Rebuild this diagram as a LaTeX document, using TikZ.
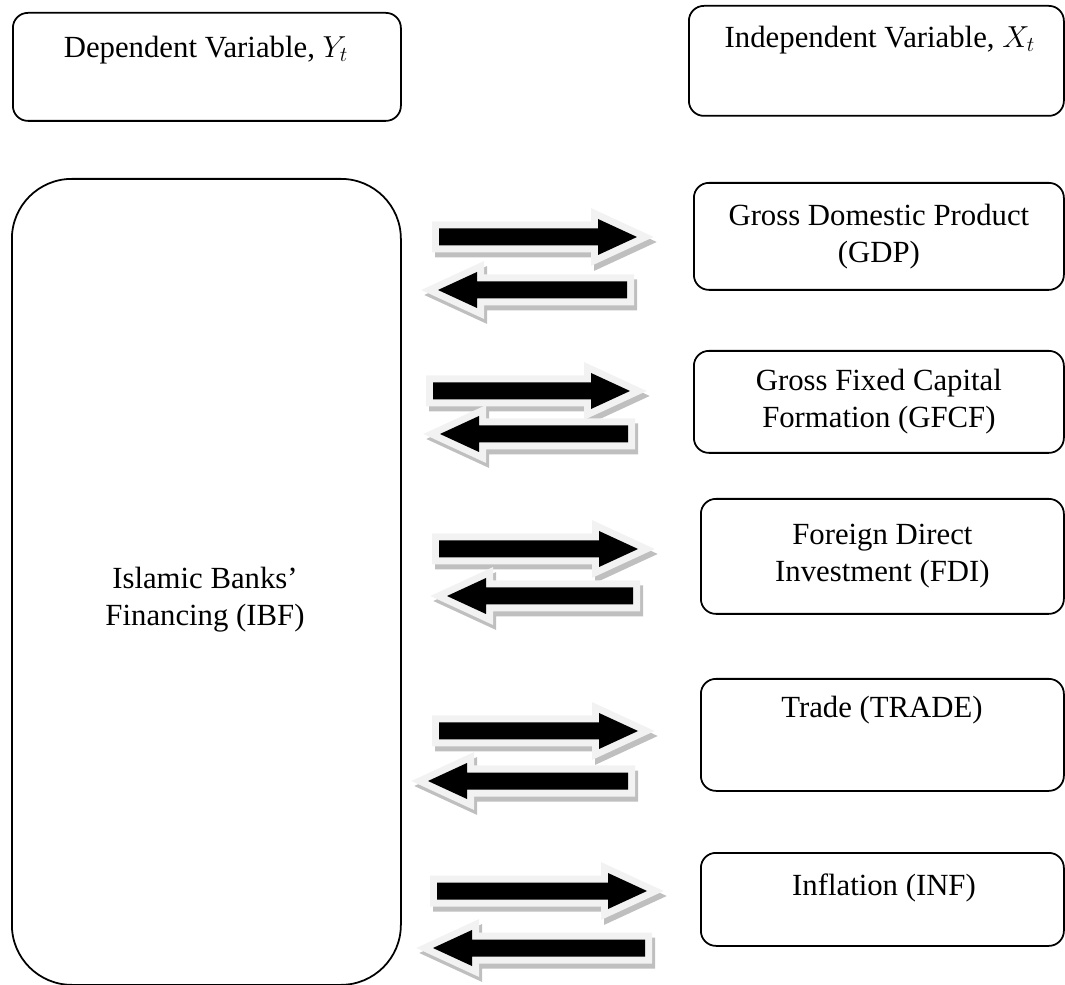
\documentclass[tikz,border=0pt]{standalone}
\usepackage{fontspec}
\setmainfont{Liberation Serif}
\usetikzlibrary{positioning}

\begin{document}
\begin{tikzpicture}[
    var_box/.style={draw, line width=1pt, rounded corners=0.3cm, anchor=north west, inner sep=0pt},
    var_label/.style={align=center, font=\fontsize{17.5}{21}\selectfont, inner sep=0pt},
    block_arrow/.style={fill=black,
        preaction={draw=gray!50, fill=gray!50, line width=0.28cm, transform canvas={xshift=0.06cm, yshift=-0.1cm}},
        preaction={draw=gray!10, fill=gray!10, line width=0.28cm}},
    pics/right_arrow/.style={code={
        \path[block_arrow] (0,-0.17) -- ({#1-0.78},-0.17) -- ({#1-0.78},-0.36) -- (#1,0)
            -- ({#1-0.78},0.36) -- ({#1-0.78},0.17) -- (0,0.17) -- cycle;}},
    pics/left_arrow/.style={code={
        \path[block_arrow] (#1,-0.17) -- (0.78,-0.17) -- (0.78,-0.36) -- (0,0)
            -- (0.78,0.36) -- (0.78,0.17) -- (#1,0.17) -- cycle;}}
]
    \useasboundingbox (0,0) rectangle (21.3,-19.7);
    % Headers
    \node[var_box, minimum width=7.76cm, minimum height=2.16cm] (dep) at (0.24,-0.24) {};
    \node[var_label] (dep_text) at (4.12,-1.0) {Dependent Variable, $Y_t$};
    \node[var_box, minimum width=7.5cm, minimum height=2.2cm] (indep) at (13.76,-0.1) {};
    \node[var_label] (indep_text) at (17.6,-0.8) {Independent Variable, $X_t$};
    % Dependent variable
    \node[var_box, rounded corners=1.2cm, minimum width=7.78cm, minimum height=16.12cm] (ibf) at (0.22,-3.56) {};
    \node[var_label] (ibf_text) at (4.1,-12.0) {Islamic Banks’\\Financing (IBF)};
    % Independent variables
    \node[var_box, var_label, minimum width=7.4cm, minimum height=2.14cm] (gdp) at (13.86,-3.64) {Gross Domestic Product\\(GDP)};
    \node[var_box, var_label, minimum width=7.4cm, minimum height=2.04cm] (gfcf) at (13.86,-7.0) {Gross Fixed Capital\\Formation (GFCF)};
    \node[var_box, var_label, minimum width=7.26cm, minimum height=2.3cm] (fdi) at (14.0,-9.96) {Foreign Direct\\Investment (FDI)};
    \node[var_box, minimum width=7.26cm, minimum height=2.24cm] (trade) at (14.0,-13.56) {};
    \node[var_label] (trade_text) at (17.64,-14.2) {Trade (TRADE)};
    \node[var_box, minimum width=7.26cm, minimum height=1.86cm] (inf) at (14.0,-17.04) {};
    \node[var_label] (inf_text) at (17.68,-17.76) {Inflation (INF)};
    % Setas
    \pic at (8.78,-4.74) {right_arrow=3.96};
    \pic at (8.76,-5.8) {left_arrow=3.78};
    \pic at (8.66,-7.82) {right_arrow=3.94};
    \pic at (8.8,-8.68) {left_arrow=3.76};
    \pic at (8.78,-10.98) {right_arrow=3.98};
    \pic at (8.94,-11.92) {left_arrow=3.72};
    \pic at (8.78,-14.62) {right_arrow=3.98};
    \pic at (8.56,-15.62) {left_arrow=4.0};
    \pic at (8.74,-17.82) {right_arrow=4.2};
    \pic at (8.66,-18.96) {left_arrow=4.24};
\end{tikzpicture}
\end{document}
